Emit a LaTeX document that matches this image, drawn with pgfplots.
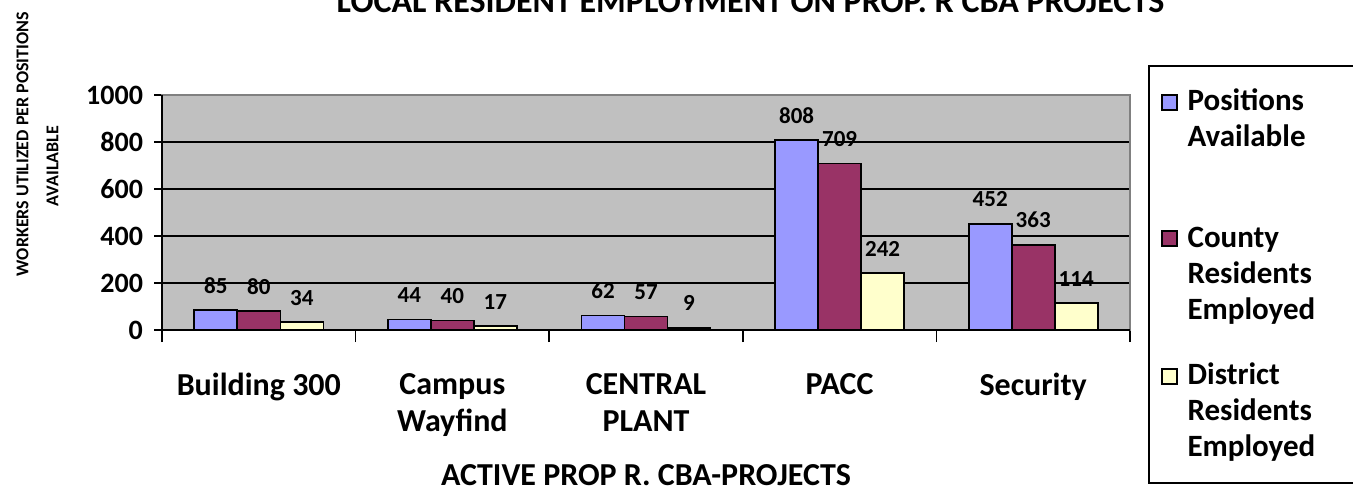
\documentclass[border=0pt]{standalone}
\usepackage{fontspec}
\setmainfont{Carlito}
\usepackage{pgfplots}
\pgfplotsset{compat=1.18}
\definecolor{cBlue}{HTML}{9999FF}
\definecolor{cMaroon}{HTML}{993366}
\definecolor{cYellow}{HTML}{FFFFCC}
\definecolor{cBack}{HTML}{C0C0C0}
\begin{document}
\begin{tikzpicture}
\begin{axis}[
  at={(81pt,82pt)}, anchor=south west,
  scale only axis, width=484pt, height=117.5pt,
  xmin=-0.5, xmax=4.5, ymin=0, ymax=1000,
  clip=false,
  ybar=0pt, bar width=21.5pt,
  axis background/.style={fill=cBack},
  axis line style={draw=black!50, line width=1pt},
  tick pos=left, tick align=outside,
  /pgf/number format/assume math mode=true,
  /pgf/number format/1000 sep={},
  ytick={0,200,...,1000},
  ymajorgrids, grid style={black, line width=0.8pt},
  major tick length=4pt,
  every major y tick/.append style={black, line width=0.8pt},
  yticklabel style={font=\fontsize{14}{16}\selectfont\bfseries, xshift=-2pt},
  xtick={0,...,4},
  xticklabels={Building 300, Campus\\Wayfind, CENTRAL\\PLANT, PACC, Security},
  xticklabel style={align=center, font=\fontsize{16}{18.5}\selectfont\bfseries, yshift=-14pt},
  every major x tick/.append style={draw=none},
  minor xtick={-0.5,0.5,...,4.5},
  minor tick length=6pt,
  every minor x tick/.append style={black, line width=0.8pt},
  xlabel={ACTIVE PROP R. CBA-PROJECTS},
  xlabel style={at={(axis description cs:0.5,-0.617)}, anchor=center, font=\fontsize{16}{19}\selectfont\bfseries},
  ylabel={WORKERS UTILIZED PER POSITIONS\\AVAILABLE\hspace*{22pt}},
  ylabel style={align=center, at={(axis description cs:-0.1286,0.791)}, anchor=center, font=\fontsize{9}{15}\selectfont\bfseries},
  title={LOCAL RESIDENT EMPLOYMENT ON PROP. R CBA PROJECTS},
  title style={at={(axis description cs:0.608,1)}, anchor=base, yshift=35.5pt, font=\fontsize{17}{20}\selectfont\bfseries},
  nodes near coords,
  every node near coord/.append style={font=\fontsize{11.5}{13}\selectfont\bfseries, anchor=base, yshift=8.5pt, text=black},
  every axis plot/.append style={draw=black, line width=0.8pt},
  every axis plot post/.append style={legend image code/.code={\draw[##1, line width=0.8pt] (0pt,36.5pt) rectangle (7.5pt,44pt);}},
  legend style={at={(axis description cs:1.0186,1.1277)}, anchor=north west, draw=black, line width=1pt, fill=white,
    font=\fontsize{15.5}{18}\selectfont\bfseries, row sep=16.5pt, inner xsep=6pt, inner ysep=9.5pt,
    cells={anchor=base west}, nodes={inner xsep=5pt}},
]
\addplot[fill=cBlue] coordinates {(0,85) (1,44) (2,62) (3,808) (4,452)};
\addlegendentry{\parbox[b]{85pt}{Positions\\Available\\\mbox{}}}
\addplot[fill=cMaroon] coordinates {(0,80) (1,40) (2,57) (3,709) (4,363)};
\addlegendentry{\parbox[b]{85pt}{County\\Residents\\Employed}}
\addplot[fill=cYellow] coordinates {(0,34) (1,17) (2,9) (3,242) (4,114)};
\addlegendentry{\parbox[b]{85pt}{District\\Residents\\Employed}}
\draw[black, line width=1pt] (rel axis cs:0,1) -- (rel axis cs:0,0) -- (rel axis cs:1,0);
\end{axis}
\pgfresetboundingbox
\useasboundingbox (0,0) rectangle (676.5pt,247pt);
\end{tikzpicture}
\end{document}
